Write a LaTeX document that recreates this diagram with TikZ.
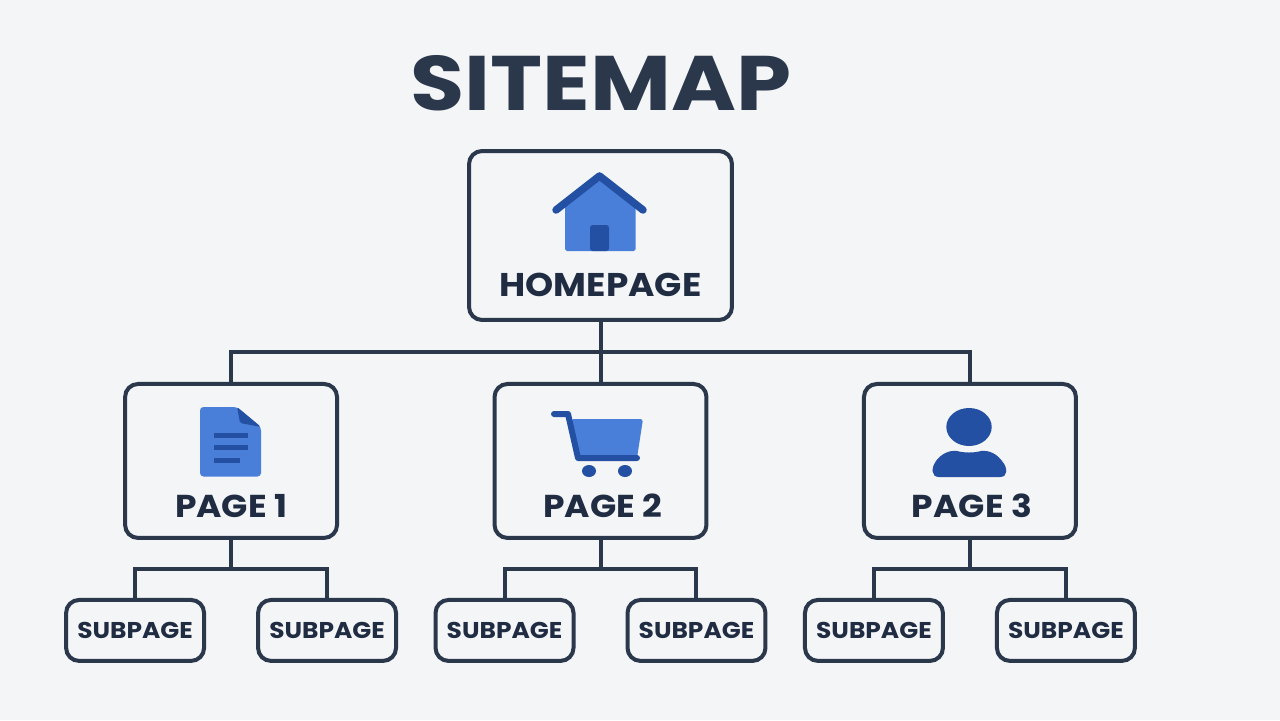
\documentclass[tikz,border=0pt]{standalone}
\usepackage{fontspec}
\setmainfont[FakeStretch=1.09]{Poppins}
\newfontfamily\titlefont[FakeStretch=1.14]{Poppins}
\usetikzlibrary{positioning}
\definecolor{pagebg}{HTML}{F3F5F7}
\definecolor{ink}{HTML}{2B384C}
\definecolor{labelink}{HTML}{202C42}
\definecolor{iconblue}{HTML}{4A7FD9}
\definecolor{icondark}{HTML}{2450A4}
\tikzset{
  homebox/.style={draw=ink, fill=pagebg, line width=0.08cm, rounded corners=0.26cm, minimum width=5.26cm, minimum height=3.38cm},
  pagebox/.style={draw=ink, fill=pagebg, line width=0.08cm, rounded corners=0.26cm, minimum width=4.24cm, minimum height=3.08cm},
  subbox/.style={draw=ink, fill=pagebg, line width=0.08cm, rounded corners=0.26cm, minimum width=2.76cm, minimum height=1.22cm, inner sep=0pt, text=labelink, font=\fontsize{13}{13}\selectfont\bfseries},
  homelabelstyle/.style={inner sep=0pt, text=labelink, font=\fontsize{18.7}{18.7}\selectfont\bfseries},
  biglabel/.style={inner sep=0pt, text=labelink, font=\fontsize{18}{18}\selectfont\bfseries},
  titlelabel/.style={inner sep=0pt, text=ink, font=\fontsize{44}{44}\titlefont\bfseries},
  link/.style={draw=ink, line width=0.08cm},
  iconfill/.style={fill=iconblue},
  icondetail/.style={fill=icondark},
  iconline/.style={draw=icondark, line cap=round, line join=round},
}
\begin{document}
\begin{tikzpicture}[x=0.02cm, y=-0.02cm]
  \useasboundingbox (0,0) rectangle (1280,720);
  \fill[pagebg] (0,0) rectangle (1280,720);
  \node (title) [titlelabel] at (601,83.5) {SITEMAP};
  % boxes
  \node (home) [homebox] at (600.5,235.5) {};
  \node (page2) [pagebox, below=1.2cm of home] {};
  \node (page1) [pagebox, left=3.07cm of page2] {};
  \node (page3) [pagebox, right=3.07cm of page2] {};
  \node (sub11) [subbox, below left=1.16cm and 0.5cm of page1.south] {SUBPAGE};
  \node (sub12) [subbox, right=1cm of sub11] {SUBPAGE};
  \node (sub21) [subbox, below left=1.16cm and 0.5cm of page2.south] {SUBPAGE};
  \node (sub22) [subbox, right=1cm of sub21] {SUBPAGE};
  \node (sub31) [subbox, below left=1.16cm and 0.5cm of page3.south] {SUBPAGE};
  \node (sub32) [subbox, right=1cm of sub31] {SUBPAGE};
  \node (homelabel) [homelabelstyle, above=0.5cm of home.south] {HOMEPAGE};
  \node (page1label) [biglabel, above=0.44cm of page1.south] {PAGE 1};
  \node (page2label) [biglabel, above=0.44cm of page2.south, xshift=0.04cm] {PAGE 2};
  \node (page3label) [biglabel, above=0.44cm of page3.south, xshift=0.04cm] {PAGE 3};
  % connectors
  \draw[link] (home.south) -- (page2.north);
  \draw[link] (home.south) -- ++(0,30) -| (page1.north);
  \draw[link] (home.south) -- ++(0,30) -| (page3.north);
  \foreach \parent/\left/\right in {page1/sub11/sub12, page2/sub21/sub22, page3/sub31/sub32} {
    \draw[link] (\parent.south) -- ++(0,29) -| (\left.north);
    \draw[link] (\parent.south) -- ++(0,29) -| (\right.north);
  }
  % house
  \fill[iconfill, rounded corners=1pt] (565,205) -- (600,175) -- (635.7,205) -- (635.7,251) -- (565,251) -- cycle;
  \fill[icondetail, rounded corners=1.5pt] (590,251) -- (590,225) -- (609,225) -- (609,251) -- cycle;
  \draw[iconline, line width=0.15cm] (556,210) -- (599.5,176) -- (643,210);
  % document
  \fill[iconfill, rounded corners=2pt] (200,407) -- (237,407) -- (261,427) -- (261,476.5) -- (200,476.5) -- cycle;
  \fill[icondetail, rounded corners=1pt] (237,407) -- (261,427) -- (240,423) -- cycle;
  \fill[icondetail] (214,432.5) rectangle (248,437.5);
  \fill[icondetail] (214,445) rectangle (248,450);
  \fill[icondetail] (214,457.5) rectangle (240,462.5);
  % cart
  \fill[iconfill, rounded corners=1.5pt] (571,419) -- (643,419) -- (637,458) -- (581,458) -- cycle;
  \draw[iconline, line width=0.12cm] (554,414) -- (568,414) -- (578,458) -- (637,458);
  \fill[icondetail] (589,471) ellipse (7 and 6);
  \fill[icondetail] (625,471) ellipse (7 and 6);
  % person
  \fill[icondetail] (969,427) ellipse (22.7 and 19);
  \fill[icondetail] (939,477) .. controls (931,477) and (931,468) .. (936,461) .. controls (941,454) and (949,450) .. (957,451) .. controls (964,453) and (974,453) .. (981,451) .. controls (989,450) and (997,454) .. (1002,461) .. controls (1008,468) and (1008,477) .. (1000,477) -- cycle;
\end{tikzpicture}
\end{document}
